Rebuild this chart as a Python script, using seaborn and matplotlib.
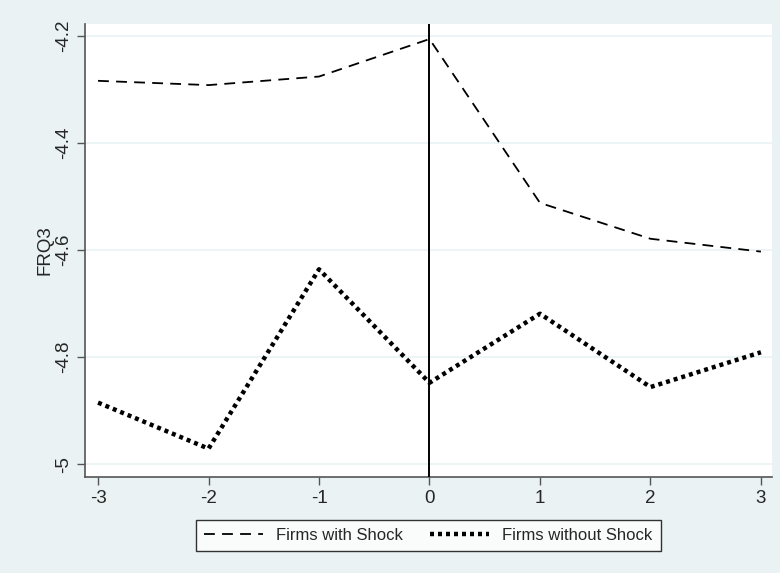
import pandas as pd
import matplotlib
matplotlib.use("Agg")
import matplotlib.pyplot as plt
import seaborn as sns

# event time and the two group means of FRQ3
years = [-3, -2, -1, 0, 1, 2, 3]
with_shock = [-4.284, -4.292, -4.276, -4.206, -4.512, -4.579, -4.603]
without_shock = [-4.885, -4.971, -4.636, -4.848, -4.719, -4.856, -4.791]
yticks = [-4.2, -4.4, -4.6, -4.8, -5.0]
ytick_labels = ["-4.2", "-4.4", "-4.6", "-4.8", "-5"]

df = pd.DataFrame({"t": years, "with": with_shock, "without": without_shock})

sns.set_style("white")
plt.rcParams["font.family"] = ["Liberation Sans", "DejaVu Sans"]

bg = "#eaf2f3"
fig = plt.figure(figsize=(7.8, 5.73), dpi=100, facecolor=bg)
ax = fig.add_axes([0.109, 0.1675, 0.8807, 0.7905])
ax.set_facecolor("white")

sns.lineplot(data=df, x="t", y="with", ax=ax, color="black", lw=1.3,
             linestyle=(0, (6, 4)), label="Firms with Shock")
sns.lineplot(data=df, x="t", y="without", ax=ax, color="black", lw=3.2,
             linestyle=(0, (0.9, 0.9)), label="Firms without Shock")
ax.axvline(0, color="black", lw=1.4, zorder=3)

ax.set_xlim(-3.118, 3.1)
ax.set_ylim(-5.024, -4.178)
ax.set_xticks(years)
ax.set_xticklabels([str(v) for v in years])
ax.set_yticks(yticks)
ax.set_yticklabels(ytick_labels, rotation=90, va="center")
ax.yaxis.grid(True, color=bg, lw=1.2)
ax.set_axisbelow(True)
ax.tick_params(axis="both", direction="out", length=5.5, width=1, color="#555555",
               labelsize=13.5, left=True, bottom=True, pad=4)
ax.set_xlabel("")
ax.set_ylabel("FRQ3", fontsize=13.5, labelpad=1)

for side in ["top", "right"]:
    ax.spines[side].set_visible(False)
for side in ["left", "bottom"]:
    ax.spines[side].set_color("#555555")
    ax.spines[side].set_linewidth(1.2)

handles, labels = ax.get_legend_handles_labels()
ax.get_legend().remove()
leg = fig.legend(handles, labels, loc="center", bbox_to_anchor=(0.549, 0.0655),
                 ncol=2, fontsize=12, frameon=True, fancybox=False,
                 handlelength=3.5, handletextpad=0.8, columnspacing=1.65,
                 borderpad=0.5, edgecolor="black")
leg.get_frame().set_linewidth(1.0)

fig.savefig("out.png", dpi=100, facecolor=bg)
